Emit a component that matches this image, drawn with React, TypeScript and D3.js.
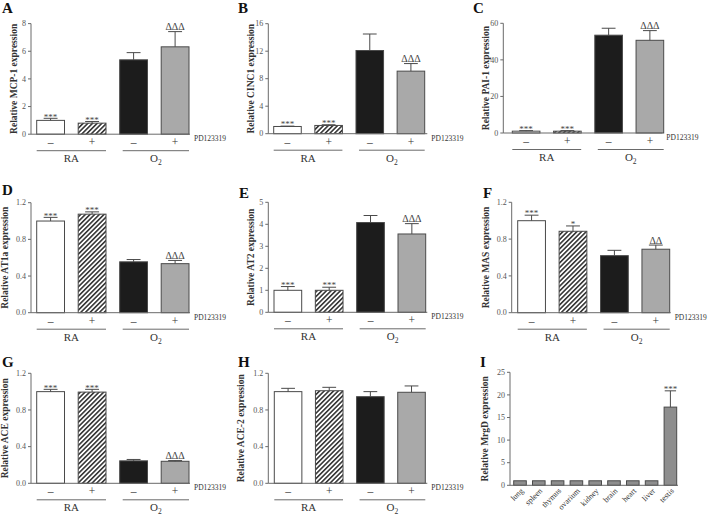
import React from "react";
import * as d3 from "d3";

// ---------- data ----------
const conditions = ["RA-", "RA+", "O2-", "O2+"];
const treatmentSigns = ["\u2013", "+", "\u2013", "+"];
const treatmentName = "PD123319";

const mcp1Mean = [1.0, 0.8, 5.38, 6.32];
const mcp1Sem = [0.15, 0.12, 0.52, 1.1];
const mcp1Marks = ["***", "***", "", "\u0394\u0394\u0394"];
const mcp1Ticks = [0, 2, 4, 6, 8];

const cinc1Mean = [1.05, 1.2, 12.1, 9.1];
const cinc1Sem = [0.05, 0.1, 2.4, 1.1];
const cinc1Marks = ["***", "***", "", "\u0394\u0394\u0394"];
const cinc1Ticks = [0, 4, 8, 12, 16];

const pai1Mean = [1.0, 1.0, 53.5, 50.7];
const pai1Sem = [0.3, 0.3, 3.8, 5.3];
const pai1Marks = ["***", "***", "", "\u0394\u0394\u0394"];
const pai1Ticks = [0, 20, 40, 60];

const at1aMean = [1.0, 1.075, 0.555, 0.535];
const at1aSem = [0.04, 0.025, 0.025, 0.035];
const at1aMarks = ["***", "***", "", "\u0394\u0394\u0394"];
const unitTicks = [0, 0.4, 0.8, 1.2];

const at2Mean = [1.0, 1.0, 4.08, 3.56];
const at2Sem = [0.17, 0.14, 0.32, 0.47];
const at2Marks = ["***", "***", "", "\u0394\u0394\u0394"];
const at2Ticks = [0, 1, 2, 3, 4, 5];

const masMean = [1.0, 0.885, 0.62, 0.69];
const masSem = [0.06, 0.058, 0.058, 0.045];
const masMarks = ["***", "*", "", "\u0394\u0394"];

const aceMean = [1.0, 0.995, 0.245, 0.24];
const aceSem = [0.025, 0.03, 0.015, 0.008];
const aceMarks = ["***", "***", "", "\u0394\u0394\u0394"];

const ace2Mean = [1.0, 1.01, 0.945, 0.993];
const ace2Sem = [0.036, 0.037, 0.055, 0.069];
const ace2Marks = ["", "", "", ""];

const tissues = ["lung", "spleen", "thymus", "ovarium", "kidney", "brain", "heart", "liver", "testis"];
const mrgdMean = [1, 1, 1, 1, 1, 1, 1, 1, 17.3];
const mrgdSem = [0, 0, 0, 0, 0, 0, 0, 0, 3.6];
const mrgdMarks = ["", "", "", "", "", "", "", "", "***"];
const mrgdTicks = [0, 5, 10, 15, 20, 25];

// ---------- styles ----------
const FONT = "Liberation Serif, Times New Roman, serif";
const AXIS = "#6a6a6a";
const TXT = "#333";
const EDGE = "#4a4a4a";
const fills = ["#ffffff", "url(#hatch)", "#1c1c1c", "#a9a9a9"];

type PanelProps = {
  letter: string;
  letterX: number;
  letterY: number;
  label: string;
  labelX: number;
  left: number;
  top: number;
  bottom: number;
  barStart: number;
  barEnd: number;
  ticks: number[];
  fmt: (v: number) => string;
  mean: number[];
  sem: number[];
  marks: string[];
};

function ErrorBar({ x, y1, y2, cap }: { x: number; y1: number; y2: number; cap: number }) {
  if (Math.abs(y1 - y2) < 0.3) return null;
  return (
    <g stroke={EDGE} strokeWidth={1}>
      <line x1={x} x2={x} y1={y1} y2={y2} />
      <line x1={x - cap / 2} x2={x + cap / 2} y1={y2} y2={y2} />
    </g>
  );
}

function Mark({ x, errTop, text }: { x: number; errTop: number; text: string }) {
  if (!text) return null;
  const star = text.includes("*");
  return (
    <text
      x={x}
      y={star ? errTop + 1.2 : errTop - 1.2}
      textAnchor="middle"
      fontSize={star ? 9 : 10}
      fill="#444"
      style={{ fontFamily: FONT }}
    >
      {text}
    </text>
  );
}

function YAxis({ left, top, bottom, ticks, fmt, y }: any) {
  return (
    <g>
      <line x1={left} x2={left} y1={top} y2={bottom} stroke={AXIS} strokeWidth={1} />
      {ticks.map((t: number) => (
        <g key={t}>
          <line x1={left - 3} x2={left} y1={y(t)} y2={y(t)} stroke={AXIS} strokeWidth={1} />
          <text x={left - 5} y={y(t)} dy="0.33em" textAnchor="end" fontSize={8} fill="#555" style={{ fontFamily: FONT }}>
            {fmt(t)}
          </text>
        </g>
      ))}
    </g>
  );
}

function BarPanel(p: PanelProps) {
  const y = d3.scaleLinear().domain([0, p.ticks[p.ticks.length - 1]]).range([p.bottom, p.top]);
  const x = d3.scaleBand<string>().domain(conditions).range([p.barStart, p.barEnd]).paddingInner(0.33).paddingOuter(0);
  const bw = x.bandwidth();
  const axisEnd = p.left + 159;
  const midY = (p.top + p.bottom) / 2;
  const grpY = p.bottom + 16.5;
  const ra0 = x(conditions[0])!;
  const ra1 = x(conditions[1])! + bw;
  const o0 = x(conditions[2])! + 3;
  const o1 = x(conditions[3])! + bw;
  return (
    <g style={{ fontFamily: FONT }}>
      <text x={p.letterX} y={p.letterY} fontSize={15} fontWeight="bold" fill="#111">{p.letter}</text>
      <text
        transform={`translate(${p.labelX},${midY}) rotate(-90)`}
        textAnchor="middle"
        dy="0.35em"
        fontSize={9.5}
        fontWeight="bold"
        fill={TXT}
      >
        {p.label}
      </text>
      {conditions.map((c, i) => {
        const bx = x(c)!;
        const top = y(p.mean[i]);
        const errTop = y(p.mean[i] + p.sem[i]);
        return (
          <g key={c}>
            <rect x={bx} y={top} width={bw} height={p.bottom - top} fill={fills[i]} stroke={EDGE} strokeWidth={1} />
            <ErrorBar x={bx + bw / 2} y1={top} y2={errTop} cap={bw / 2} />
            <Mark x={bx + bw / 2} errTop={errTop} text={p.marks[i]} />
            <text x={bx + bw / 2} y={p.bottom + 8} dy="0.35em" textAnchor="middle" fontSize={11.5} fill={TXT}>
              {treatmentSigns[i]}
            </text>
          </g>
        );
      })}
      <YAxis left={p.left} top={p.top} bottom={p.bottom} ticks={p.ticks} fmt={p.fmt} y={y} />
      <line x1={p.left} x2={axisEnd} y1={p.bottom} y2={p.bottom} stroke={AXIS} strokeWidth={1} />
      <text x={p.left + 163} y={p.bottom + 7} fontSize={7.5} fill={TXT}>{treatmentName}</text>
      <line x1={ra0} x2={ra1} y1={grpY} y2={grpY} stroke={AXIS} strokeWidth={1} />
      <line x1={o0} x2={o1} y1={grpY} y2={grpY} stroke={AXIS} strokeWidth={1} />
      <text x={(ra0 + ra1) / 2} y={p.bottom + 28} textAnchor="middle" fontSize={11} fill={TXT}>RA</text>
      <text x={(o0 + o1) / 2} y={p.bottom + 28} textAnchor="middle" fontSize={11} fill={TXT}>
        O<tspan fontSize={7.5} dy={3}>2</tspan>
      </text>
    </g>
  );
}

function TissuePanel() {
  const left = 510, top = 372.3, bottom = 485.3;
  const y = d3.scaleLinear().domain([0, 25]).range([bottom, top]);
  const x = d3.scaleBand<string>().domain(tissues).range([513.7, 676.7]).paddingInner(0.33).paddingOuter(0);
  const bw = x.bandwidth();
  return (
    <g style={{ fontFamily: FONT }}>
      <text x={480} y={367} fontSize={15} fontWeight="bold" fill="#111">I</text>
      <text
        transform={`translate(485,${(top + bottom) / 2}) rotate(-90)`}
        textAnchor="middle"
        dy="0.35em"
        fontSize={9.5}
        fontWeight="bold"
        fill={TXT}
      >
        Relative MrgD expression
      </text>
      {tissues.map((t, i) => {
        const bx = x(t)!;
        const bt = y(mrgdMean[i]);
        const et = y(mrgdMean[i] + mrgdSem[i]);
        return (
          <g key={t}>
            <rect x={bx} y={bt} width={bw} height={bottom - bt} fill="#8e8e8e" stroke={EDGE} strokeWidth={1} />
            <ErrorBar x={bx + bw / 2} y1={bt} y2={et} cap={bw * 0.9} />
            <Mark x={bx + bw / 2} errTop={et} text={mrgdMarks[i]} />
            <g transform={`translate(${bx + bw / 2 + 4},${bottom + 6})`}>
              <text transform="rotate(-45)" textAnchor="end" fontSize={8} fill={TXT}>
                {t}
              </text>
            </g>
          </g>
        );
      })}
      <YAxis left={left} top={top} bottom={bottom} ticks={mrgdTicks} fmt={(v: number) => String(v)} y={y} />
      <line x1={left} x2={678} y1={bottom} y2={bottom} stroke={AXIS} strokeWidth={1} />
    </g>
  );
}

const intFmt = (v: number) => String(v);
const decFmt = d3.format(".1f");

export default function App() {
  return (
    <svg width={709} height={516} style={{ position: "absolute", left: 0, top: 0, background: "#fff", fontFamily: FONT }}>
      <defs>
        <pattern id="hatch" patternUnits="userSpaceOnUse" width={3.3} height={3.3} patternTransform="rotate(45)">
          <rect width={3.3} height={3.3} fill="#fff" />
          <line x1={0.8} x2={0.8} y1={0} y2={3.3} stroke="#111" strokeWidth={1.35} />
        </pattern>
      </defs>
      <rect width={709} height={516} fill="#fff" />
      <BarPanel letter="A" letterX={2} letterY={13} label="Relative MCP-1 expression" labelX={14}
        left={31} top={23.6} bottom={134.2} barStart={36.7} barEnd={189}
        ticks={mcp1Ticks} fmt={intFmt} mean={mcp1Mean} sem={mcp1Sem} marks={mcp1Marks} />
      <BarPanel letter="B" letterX={238} letterY={13} label="Relative CINC1 expression" labelX={251}
        left={268.3} top={23.7} bottom={133.7} barStart={273.7} barEnd={424.7}
        ticks={cinc1Ticks} fmt={intFmt} mean={cinc1Mean} sem={cinc1Sem} marks={cinc1Marks} />
      <BarPanel letter="C" letterX={473} letterY={13} label="Relative PAI-1 expression" labelX={485.5}
        left={503.3} top={23.3} bottom={133} barStart={512.3} barEnd={663.7}
        ticks={pai1Ticks} fmt={intFmt} mean={pai1Mean} sem={pai1Sem} marks={pai1Marks} />
      <BarPanel letter="D" letterX={2} letterY={195} label="Relative AT1a expression" labelX={5}
        left={31} top={202.7} bottom={312.7} barStart={36.7} barEnd={189}
        ticks={unitTicks} fmt={decFmt} mean={at1aMean} sem={at1aSem} marks={at1aMarks} />
      <BarPanel letter="E" letterX={239} letterY={198} label="Relative AT2 expression" labelX={251}
        left={268.3} top={202.3} bottom={312.3} barStart={274} barEnd={425.7}
        ticks={at2Ticks} fmt={intFmt} mean={at2Mean} sem={at2Sem} marks={at2Marks} />
      <BarPanel letter="F" letterX={483} letterY={198} label="Relative MAS expression" labelX={486}
        left={511.7} top={202.3} bottom={312.7} barStart={517.7} barEnd={669.7}
        ticks={unitTicks} fmt={decFmt} mean={masMean} sem={masSem} marks={masMarks} />
      <BarPanel letter="G" letterX={2} letterY={367} label="Relative ACE expression" labelX={5}
        left={31} top={373.3} bottom={483.3} barStart={36.7} barEnd={189}
        ticks={unitTicks} fmt={decFmt} mean={aceMean} sem={aceSem} marks={aceMarks} />
      <BarPanel letter="H" letterX={238} letterY={367} label="Relative ACE-2 expression" labelX={241}
        left={268.3} top={373.3} bottom={483.3} barStart={274.3} barEnd={425.3}
        ticks={unitTicks} fmt={decFmt} mean={ace2Mean} sem={ace2Sem} marks={ace2Marks} />
      <TissuePanel />
    </svg>
  );
}
